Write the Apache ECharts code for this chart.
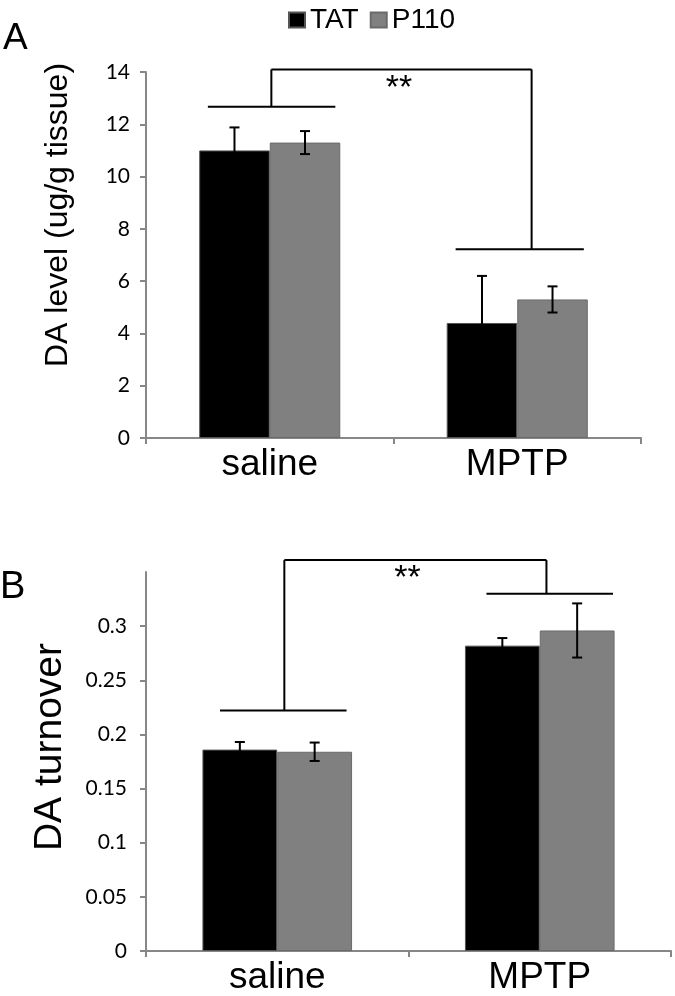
<!DOCTYPE html>
<html>
<head>
<meta charset="utf-8">
<script src="https://cdn.jsdelivr.net/npm/echarts@6/dist/echarts.min.js"></script>
<style>
html,body{margin:0;padding:0;background:#fff;}
#chart{width:675px;height:996px;}
</style>
</head>
<body>
<div id="chart"></div>
<script>
// ---- data ----
var categories = ['saline', 'MPTP'];
var seriesNames = ['TAT', 'P110'];
// Panel A: DA level (ug/g tissue)
var levelTAT = [11.0, 4.4];
var levelTATErr = [0.88, 1.8];
var levelP110 = [11.3, 5.3];
var levelP110Err = [0.44, 0.5];
var levelTicks = [0, 14, 2];          // min, max, interval
var levelBracket = [12.67, 7.22, 14.1]; // saline bar line, MPTP bar line, top line
// Panel B: DA turnover
var turnTAT = [0.186, 0.282];
var turnTATErr = [0.007, 0.007];
var turnP110 = [0.184, 0.296];
var turnP110Err = [0.0085, 0.025];
var turnTicks = [0, 0.35, 0.05];
var turnBracket = [0.222, 0.330, 0.361];
var sigLabel = '**';

// ---- style ----
var FONT = '"Liberation Sans", Arial, sans-serif';
var TICKFONT = 'Lato, "Open Sans", sans-serif';
var AXIS_GRAY = '#878787';
var GAP = 0.43;

var chart = echarts.init(document.getElementById('chart'));

function errItem(sign) {
  return function (params, api) {
    var ci = api.value(0), v = api.value(1), e = api.value(2);
    var band = api.size([1, 0])[0];
    var bw = band * (1 - GAP) / 2;
    var cx = api.coord([ci, 0])[0] + sign * bw / 2;
    var top = api.coord([ci, v + e])[1];
    var bot = api.coord([ci, v - e])[1];
    var cap = 5;
    var st = { stroke: '#000', lineWidth: 2 };
    return {
      type: 'group',
      children: [
        { type: 'line', shape: { x1: cx, y1: top, x2: cx, y2: bot }, style: st },
        { type: 'line', shape: { x1: cx - cap, y1: top, x2: cx + cap, y2: top }, style: st },
        { type: 'line', shape: { x1: cx - cap, y1: bot, x2: cx + cap, y2: bot }, style: st }
      ]
    };
  };
}

function bracketItem(geom) {
  return function (params, api) {
    var lowL = api.value(0), lowR = api.value(1), topV = api.value(2);
    var band = api.size([1, 0])[0];
    var c0 = api.coord([0, 0])[0], c1 = api.coord([1, 0])[0];
    var yL = api.coord([0, lowL])[1], yR = api.coord([1, lowR])[1], yT = api.coord([0, topV])[1];
    var vx0 = c0 + geom.v0 * band, vx1 = c1 + geom.v1 * band;
    var st = { stroke: '#000', lineWidth: 2 };
    return {
      type: 'group',
      children: [
        { type: 'line', shape: { x1: c0 + geom.h0[0] * band, y1: yL, x2: c0 + geom.h0[1] * band, y2: yL }, style: st },
        { type: 'line', shape: { x1: c1 + geom.h1[0] * band, y1: yR, x2: c1 + geom.h1[1] * band, y2: yR }, style: st },
        { type: 'line', shape: { x1: vx0, y1: yL, x2: vx0, y2: yT }, style: st },
        { type: 'line', shape: { x1: vx1, y1: yR, x2: vx1, y2: yT }, style: st },
        { type: 'line', shape: { x1: vx0, y1: yT, x2: vx1, y2: yT }, style: st },
        { type: 'text', style: { text: sigLabel, x: (vx0 + vx1) / 2 + geom.sx * band, y: yT + 2, align: 'center', verticalAlign: 'top', font: '34px ' + FONT, fill: '#000' } }
      ]
    };
  };
}

var geomA = { h0: [-0.25, 0.265], h1: [-0.249, 0.269], v0: 0.0065, v1: 0.058, sx: -0.01 };
var geomB = { h0: [-0.218, 0.264], h1: [-0.203, 0.279], v0: 0.027, v1: 0.0255, sx: -0.03 };

function xAxis(gi) {
  return {
    type: 'category', gridIndex: gi, data: categories,
    axisLine: { lineStyle: { color: AXIS_GRAY, width: 2 } },
    axisTick: { show: true, length: 6, lineStyle: { color: AXIS_GRAY, width: 2 } },
    axisLabel: { color: '#000', fontSize: 37, fontFamily: FONT, margin: 8 }
  };
}
function yAxis(gi, t, hideMax) {
  return {
    type: 'value', gridIndex: gi, min: t[0], max: t[1], interval: t[2],
    splitLine: { show: false },
    axisLine: { show: true, lineStyle: { color: AXIS_GRAY, width: 2 } },
    axisTick: { show: true, length: 6, lineStyle: { color: AXIS_GRAY, width: 2 } },
    axisLabel: { color: '#000', fontSize: 21, fontFamily: TICKFONT, margin: hideMax ? 19 : 16, showMaxLabel: !hideMax }
  };
}

function idx(arr, err) { return arr.map(function (v, i) { return [i, v, err[i]]; }); }

var barStyleTAT = { color: '#000', borderColor: '#555', borderWidth: 1 };
var barStyleP110 = { color: '#808080', borderColor: '#6a6a6a', borderWidth: 1 };

var option = {
  animation: false,
  backgroundColor: '#fff',
  legend: {
    data: seriesNames, left: 283, top: 1, itemWidth: 16, itemHeight: 15, itemGap: 11,
    icon: 'rect', textStyle: { fontSize: 28, fontFamily: FONT, color: '#000', padding: [2, 0, 0, 0] }
  },
  grid: [
    { left: 146, right: 34, top: 72, height: 366 },
    { left: 146, right: 4, top: 572, height: 385 }
  ],
  xAxis: [xAxis(0), xAxis(1)],
  yAxis: [yAxis(0, levelTicks, false), yAxis(1, turnTicks, true)],
  graphic: [
    { type: 'text', x: 3, y: 20, style: { text: 'A', font: '37px ' + FONT, fill: '#000' } },
    { type: 'text', x: 0, y: 569, style: { text: 'B', font: '38px ' + FONT, fill: '#000' } },
    { type: 'text', x: 58, y: 215, rotation: Math.PI / 2, style: { text: 'DA level (ug/g tissue)', font: '32px ' + FONT, fill: '#000', align: 'center', verticalAlign: 'middle' } },
    { type: 'text', x: 50, y: 747, rotation: Math.PI / 2, style: { text: 'DA turnover', font: '39px ' + FONT, fill: '#000', align: 'center', verticalAlign: 'middle' } }
  ],
  series: [
    { name: 'TAT', type: 'bar', xAxisIndex: 0, yAxisIndex: 0, data: levelTAT, barGap: '0%', barCategoryGap: (GAP * 100) + '%', itemStyle: barStyleTAT },
    { name: 'P110', type: 'bar', xAxisIndex: 0, yAxisIndex: 0, data: levelP110, barGap: '0%', barCategoryGap: (GAP * 100) + '%', itemStyle: barStyleP110 },
    { name: 'TAT', type: 'bar', xAxisIndex: 1, yAxisIndex: 1, data: turnTAT, barGap: '0%', barCategoryGap: (GAP * 100) + '%', itemStyle: barStyleTAT },
    { name: 'P110', type: 'bar', xAxisIndex: 1, yAxisIndex: 1, data: turnP110, barGap: '0%', barCategoryGap: (GAP * 100) + '%', itemStyle: barStyleP110 },
    { type: 'custom', xAxisIndex: 0, yAxisIndex: 0, data: idx(levelTAT, levelTATErr), renderItem: errItem(-1), clip: false, z: 5 },
    { type: 'custom', xAxisIndex: 0, yAxisIndex: 0, data: idx(levelP110, levelP110Err), renderItem: errItem(1), clip: false, z: 5 },
    { type: 'custom', xAxisIndex: 1, yAxisIndex: 1, data: idx(turnTAT, turnTATErr), renderItem: errItem(-1), clip: false, z: 5 },
    { type: 'custom', xAxisIndex: 1, yAxisIndex: 1, data: idx(turnP110, turnP110Err), renderItem: errItem(1), clip: false, z: 5 },
    { type: 'custom', xAxisIndex: 0, yAxisIndex: 0, data: [levelBracket], renderItem: bracketItem(geomA), clip: false, z: 5 },
    { type: 'custom', xAxisIndex: 1, yAxisIndex: 1, data: [turnBracket], renderItem: bracketItem(geomB), clip: false, z: 5 }
  ]
};
chart.setOption(option);
</script>
</body>
</html>
